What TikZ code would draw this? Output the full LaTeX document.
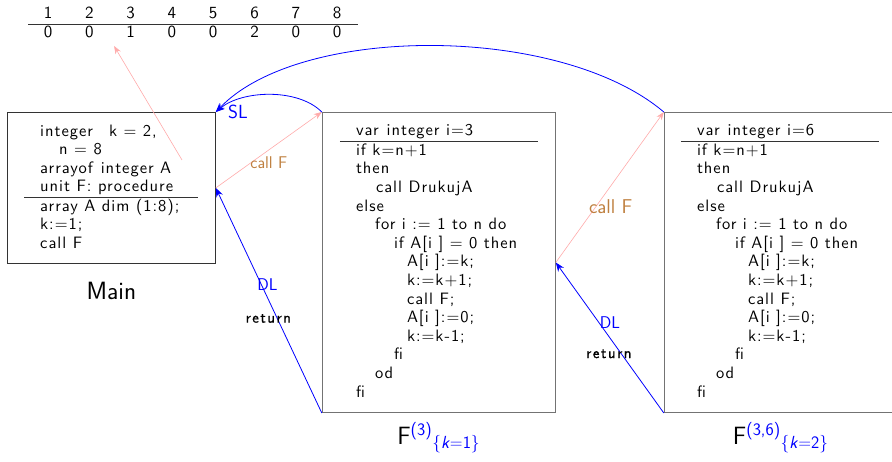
\documentclass[tikz,border=0pt]{standalone}
\usepackage{amsmath}
\usepackage{fontspec}
\usetikzlibrary{arrows.meta, positioning, calc}

\definecolor{callbrown}{RGB}{191,128,64}
\definecolor{linkpink}{RGB}{255,170,170}
\newfontfamily\codefam{lmsans10-regular.otf}[LetterSpace=6]
\newfontfamily\retfam{lmsans10-regular.otf}[LetterSpace=10, FakeBold=0.8]
\newcommand{\codefont}{\codefam\fontsize{16.5}{18.6}\selectfont}
\newcommand{\cellfont}{\codefam\fontsize{17}{20}\selectfont}
\newcommand{\retfont}{\retfam\fontsize{15}{18}\selectfont}

% body of the recursive procedure F
\newcommand{\fbody}{if k=n+1\\
then\\
\hspace*{20pt}call DrukujA\\
else\\
\hspace*{19pt}for i := 1 to n do\\
\hspace*{38pt}if A[i ] = 0 then\\
\hspace*{51pt}A[i ]:=k;\\
\hspace*{51pt}k:=k+1;\\
\hspace*{51pt}call F;\\
\hspace*{51pt}A[i ]:=0;\\
\hspace*{51pt}k:=k-1;\\
\hspace*{38pt}fi\\
\hspace*{19pt}od\\
fi}

\begin{document}
\begin{tikzpicture}[
    x=1pt, y=-1pt,
    every node/.style={inner sep=0pt},
    mainbox/.style={draw=black!80, line width=0.8pt, minimum width=208pt, minimum height=151pt, anchor=north west},
    framebox/.style={draw=black!55, line width=1pt, minimum width=233pt, minimum height=300pt},
    code/.style={anchor=north west, align=left, font=\codefont},
    cell/.style={font=\cellfont},
    sep/.style={line width=0.8pt, black!80},
    call/.style={-{Stealth[length=8pt,width=6pt]}, linkpink, line width=0.6pt},
    link/.style={-{Stealth[length=9pt,width=7pt]}, blue, line width=0.8pt},
    callnote/.style={text=callbrown, font=\sffamily\fontsize{17}{20}\selectfont},
    linknote/.style={text=blue, font=\sffamily\fontsize{17}{20}\selectfont},
    retnote/.style={text=black, font=\retfont},
    title/.style={font=\sffamily\fontsize{25}{30}\selectfont}
  ]
  \useasboundingbox (0,0) rectangle (892,462);

  % array A
  \draw[sep] (28,24) -- (358,24);
  \foreach \i/\v in {1/0,2/0,3/1,4/0,5/0,6/2,7/0,8/0}{
    \node[cell] (h\i) at ({48+41.3*(\i-1)},13) {\i};
    \node[cell] (v\i) at ({48+41.3*(\i-1)},32) {\v};
  }

  % activation records
  \node[mainbox] (main) at (7,112) {};
  \node[framebox, right=106pt of main.north east, anchor=north west] (f3) {};
  \node[framebox, right=108pt of f3.north east, anchor=north west] (f36) {};

  \node[code] (maindecl) at ($(main.north west)+(33,12.5)$)
    {integer\hspace{16pt}k = 2,\\
     \hspace*{19pt}n = 8\\
     arrayof\hspace{8pt}integer A\\
     unit F: procedure};
  \draw[sep] ($(main.north west)+(17,85)$) -- ($(main.north west)+(191,85)$);
  \node[code] (mainbody) at ($(main.north west)+(33,86.6)$)
    {array A dim (1:8);\\
     k:=1;\\
     call F};

  \node[code] (f3decl) at ($(f3.north west)+(34,12.5)$) {var\hspace{8pt}integer i=3};
  \draw[sep] ($(f3.north west)+(18,29)$) -- ($(f3.north west)+(216,29)$);
  \node[code] (f3body) at ($(f3.north west)+(34,31.5)$) {\fbody};

  \node[code] (f36decl) at ($(f36.north west)+(33,12.5)$) {var\hspace{8pt}integer i=6};
  \draw[sep] ($(f36.north west)+(17,29)$) -- ($(f36.north west)+(215,29)$);
  \node[code] (f36body) at ($(f36.north west)+(33,31.5)$) {\fbody};

  \node[title, below=18pt of main] (mainname) {Main};
  \node[title, below=9pt of f3] (f3name)
    {F$^{\color{blue}\text{\sffamily(3)}}_{\color{blue}\text{\sffamily\{\textit{k}=1\}}}$};
  \node[title, below=9pt of f36] (f36name)
    {F$^{\color{blue}\text{\sffamily(3,6)}}_{\color{blue}\text{\sffamily\{\textit{k}=2\}}}$};

  % pointer into the array
  \coordinate (aref) at ($(main.north west)+(175,48)$);
  \coordinate (acell) at ($(v2)!0.6!(v3)+(0,14)$);
  \draw[call] (aref) -- (acell);

  % calls
  \draw[call] (main.east) -- (f3.north west)
    node[callnote, pos=0.5, below=6pt] {call F};
  \draw[call] (f3.east) -- (f36.north west)
    node[callnote, pos=0.37, anchor=west, xshift=-7pt, font=\sffamily\fontsize{20}{24}\selectfont] {call F};

  % dynamic links
  \draw[link] (f3.south west) -- (main.east)
    node[linknote, pos=0.57, xshift=6pt] {DL}
    node[retnote, pos=0.42, xshift=-9pt] {return};
  \draw[link] (f36.south west) -- (f3.east)
    node[linknote, pos=0.6, xshift=11pt] {DL}
    node[retnote, pos=0.393, xshift=-12.5pt] {return};

  % static links
  \draw[link] (f3.north west) .. controls (298,88) and (242,90) .. (main.north east)
    node[linknote, anchor=west, xshift=12pt, font=\sffamily\fontsize{19}{22}\selectfont] {SL};
  \draw[link] (f36.north west) .. controls (560,24) and (300,24) .. (main.north east);
\end{tikzpicture}
\end{document}
